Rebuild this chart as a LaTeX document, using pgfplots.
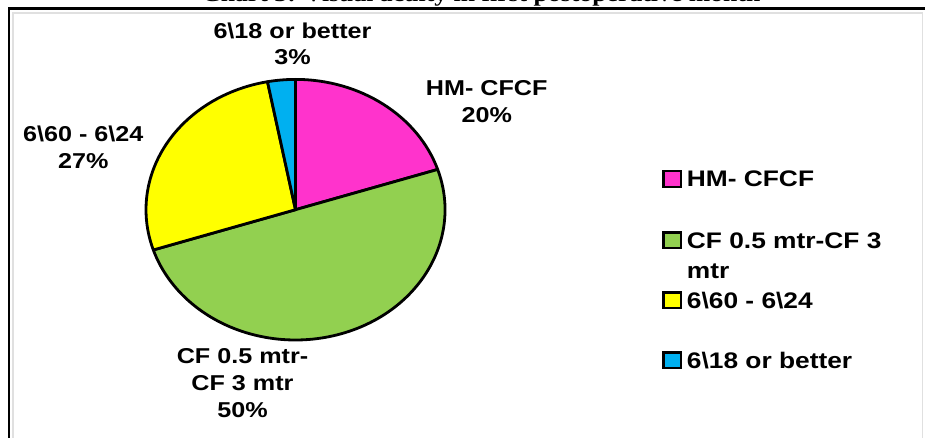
\documentclass[border=0pt]{standalone}
\usepackage{pgfplots}
\usepackage{pgfplotstable}
\pgfplotsset{compat=1.18}
\usepackage{fontspec}
\setmainfont{Liberation Sans}
\newfontfamily\lab[FakeStretch=1.17]{Liberation Sans}
\newfontfamily\ttl[FakeStretch=1.17]{Liberation Serif}
\definecolor{hmcol}{HTML}{FF33CC}
\definecolor{cfcol}{HTML}{92D050}
\definecolor{yecol}{HTML}{FFFF00}
\definecolor{bucol}{HTML}{00B0F0}

\pgfplotstableread{
label value color
HM 20 hmcol
CF 50 cfcol
V60 27 yecol
V18 3 bucol
}\piedata

\begin{document}
\begin{tikzpicture}[x=1pt,y=1pt]
\path[use as bounding box] (0,0) rectangle (925,437);
% frame
\draw[black!12, line width=1.2pt] (13,-5) -- (13,424) -- (922.7,424) -- (922.7,-5);
\draw[black, line width=2.6pt] (9,-5) -- (9,428.5) -- (930,428.5);
% cut-off title
\node[anchor=base west, inner sep=0pt, font=\ttl\bfseries\fontsize{22}{26}\selectfont] at (202,435) {Chart 3: Visual acuity in first postoperative month};

\begin{axis}[at={(295.5pt,227.3pt)}, anchor=origin, x=149.5pt, y=130.3pt,
  xmin=-1, xmax=1, ymin=-1, ymax=1, hide axis, clip=false]
\pgfplotstablegetrowsof{\piedata}
\pgfmathtruncatemacro\nrows{\pgfplotsretval-1}
\gdef\cum{90}
\pgfplotsforeachungrouped \i in {0,...,\nrows}{
  \pgfplotstablegetelem{\i}{value}\of\piedata \let\v\pgfplotsretval
  \pgfplotstablegetelem{\i}{color}\of\piedata \let\col\pgfplotsretval
  \pgfmathsetmacro\endang{\cum-3.6*\v}
  \pgfmathsetmacro\cx{cos(\cum)}
  \pgfmathsetmacro\cy{sin(\cum)}
  \edef\temp{\noexpand\filldraw[fill=\col, draw=black, line width=2.8pt, line join=round] (axis cs:0,0) -- (axis cs:\cx,\cy) arc[start angle=\cum, end angle=\endang, x radius=149.5pt, y radius=130.3pt] -- cycle;}
  \temp
  \global\let\cum\endang
}
\end{axis}

% data labels
\begin{scope}[every node/.style={font=\lab\bfseries\fontsize{21.5}{26.8}\selectfont, align=center, inner sep=0pt, anchor=base}]
\node at (292.5,437-38.3) {6\textbackslash 18 or better};
\node at (292.5,437-65) {3\%};
\node at (486.7,437-96) {HM- CFCF};
\node at (486.7,437-122.5) {20\%};
\node at (83.3,437-141.7) {6\textbackslash 60 - 6\textbackslash 24};
\node at (83.3,437-168.5) {27\%};
\node at (242.5,437-363.3) {CF 0.5 mtr-};
\node at (242.5,437-390) {CF 3 mtr};
\node at (242.5,437-417) {50\%};
\end{scope}

% legend
\begin{scope}[every node/.style={font=\lab\bfseries\fontsize{22.5}{30}\selectfont, inner sep=0pt, anchor=base west}]
\filldraw[fill=hmcol, draw=black, line width=2.4pt] (663.5,437-186.7) rectangle (681,437-171);
\node at (686.7,437-186.7) {HM- CFCF};
\filldraw[fill=cfcol, draw=black, line width=2.4pt] (663.5,437-248) rectangle (681,437-232.3);
\node at (686.7,437-248) {CF 0.5 mtr-CF 3};
\node at (686.7,437-278) {mtr};
\filldraw[fill=yecol, draw=black, line width=2.4pt] (663.5,437-308) rectangle (681,437-292.3);
\node at (686.7,437-308) {6\textbackslash 60 - 6\textbackslash 24};
\filldraw[fill=bucol, draw=black, line width=2.4pt] (663.5,437-368) rectangle (681,437-352.3);
\node at (686.7,437-368) {6\textbackslash 18 or better};
\end{scope}
\end{tikzpicture}
\end{document}
